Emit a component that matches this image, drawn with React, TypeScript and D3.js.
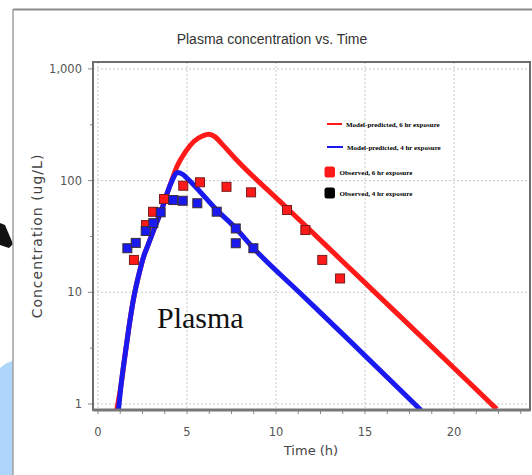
import React from "react";
import * as d3 from "d3";

// ---------- data ----------
const chartTitle = "Plasma concentration vs. Time";
const xAxisTitle = "Time (h)";
const yAxisTitle = "Concentration (ug/L)";
const annotationText = "Plasma";

const xTickValues = [0, 5, 10, 15, 20];
const xTickLabels = ["0", "5", "10", "15", "20"];
const yTickValues = [1, 10, 100, 1000];
const yTickLabels = ["1", "10", "100", "1,000"];

const legendLabels = [
  "Model-predicted, 6 hr exposure",
  "Model-predicted, 4 hr exposure",
  "Observed, 6 hr exposure",
  "Observed, 4 hr exposure",
];

// model-predicted, 6 hr exposure
const pred6Time = [1.05, 1.3, 1.5, 1.75, 2.0, 2.3, 2.55, 2.85, 3.2, 3.58, 3.86, 4.14, 4.45, 4.9, 5.4, 5.9, 6.2, 6.6, 7.0, 7.79, 10.22, 11.63, 13.6, 15.84, 20, 22.4];
const pred6Conc = [0.88, 1.5, 2.6, 5, 8.8, 14.5, 20.5, 27.5, 38.7, 55, 75, 100, 135, 180, 225, 252, 260, 245, 210, 153, 65.1, 39.8, 19.9, 9.06, 2.1, 0.9];

// model-predicted, 4 hr exposure
const pred4Time = [1.15, 1.3, 1.5, 1.75, 2.0, 2.3, 2.55, 2.85, 3.2, 3.58, 3.86, 4.14, 4.45, 4.75, 4.98, 5.54, 6.6, 7.7, 8.72, 11.35, 14.16, 18.15];
const pred4Conc = [0.88, 1.5, 2.6, 5, 8.8, 14.5, 20.5, 27.5, 38.7, 55, 75, 98, 118, 114, 106, 86, 56, 38, 25, 9.85, 3.66, 0.88];

// observed, 6 hr exposure
const obs6Time = [2.02, 2.7, 3.09, 3.71, 4.79, 5.73, 7.22, 8.6, 10.62, 11.65, 12.6, 13.6];
const obs6Conc = [19.5, 40, 52.6, 68.4, 90, 96.6, 88, 78.5, 54.6, 36.1, 19.5, 13.3];

// observed, 4 hr exposure
const obs4Time = [1.65, 2.12, 2.68, 3.11, 3.52, 4.23, 4.76, 5.58, 6.67, 7.74, 7.74, 8.73];
const obs4Conc = [24.8, 27.7, 35.4, 41.6, 52, 67, 66, 62.7, 52.7, 37.3, 27.5, 24.8];

// ---------- layout ----------
const W = 532;
const H = 475;
const plot = { left: 93, right: 530, top: 62, bottom: 410 };

const RED = "#ff1a1a";
const BLUE = "#1a1af0";

export default function App() {
  const x = d3.scaleLinear().domain([-0.28, 24.27]).range([plot.left, plot.right]);
  const y = d3.scaleLog().domain([0.884, 1153]).range([plot.bottom, plot.top]);

  const line = d3
    .line<[number, number]>()
    .x((d) => x(d[0]))
    .y((d) => y(d[1]))
    .curve(d3.curveMonotoneX);

  const pred6 = pred6Time.map((t, i) => [t, pred6Conc[i]] as [number, number]);
  const pred4 = pred4Time.map((t, i) => [t, pred4Conc[i]] as [number, number]);
  const obs6 = obs6Time.map((t, i) => [t, obs6Conc[i]] as [number, number]);
  const obs4 = obs4Time.map((t, i) => [t, obs4Conc[i]] as [number, number]);

  const minorX = d3.range(0, 24, 1.25);
  const minorY: number[] = [];
  [1, 10, 100].forEach((d) => minorY.push(d * Math.sqrt(10)));

  const sq = 9;
  const font = "'DejaVu Sans', Verdana, sans-serif";
  const titleFont = "'Liberation Sans', Arial, sans-serif";
  const serif = "'Liberation Serif', 'Times New Roman', serif";

  return (
    <div style={{ position: "absolute", left: 0, top: 0, width: W, height: H }}>
      <svg width={W} height={H} style={{ display: "block" }}>
        <rect x={0} y={0} width={W} height={H} fill="#ffffff" />
        {/* outer decorations */}
        <path d="M0,368 Q7,362 13,361 L13,475 L0,475 Z" fill="#aed6fa" />
        <path d="M0,223 L5,225 L13,244 L9,248 L0,245 Z" fill="#111" />
        <line x1={13} y1={9.5} x2={W} y2={9.5} stroke="#8c8c8c" strokeWidth={2} />
        <line x1={13} y1={9} x2={13} y2={H} stroke="#a0a0a0" strokeWidth={1.5} />

        {/* title */}
        <text x={272} y={44} textAnchor="middle" fontFamily={titleFont} fontSize={14} fill="#333">
          {chartTitle}
        </text>

        <defs>
          <clipPath id="plotClip">
            <rect x={plot.left} y={plot.top} width={plot.right - plot.left} height={plot.bottom - plot.top} />
          </clipPath>
        </defs>

        {/* gridlines */}
        {xTickValues.map((v) => (
          <line key={"gx" + v} x1={x(v)} x2={x(v)} y1={plot.top} y2={plot.bottom} stroke="#c8c8c8" strokeDasharray="2,2" />
        ))}
        {yTickValues.map((v) => (
          <line key={"gy" + v} x1={plot.left} x2={plot.right} y1={y(v)} y2={y(v)} stroke="#c8c8c8" strokeDasharray="2,2" />
        ))}

        {/* ticks */}
        {minorX.map((v) => (
          <line key={"mx" + v} x1={x(v)} x2={x(v)} y1={plot.bottom} y2={plot.bottom + 4} stroke="#888" />
        ))}
        {yTickValues.map((v) => (
          <line key={"ty" + v} x1={plot.left - 5} x2={plot.left} y1={y(v)} y2={y(v)} stroke="#888" />
        ))}
        {minorY.map((v) => (
          <line key={"my" + v} x1={plot.left - 3} x2={plot.left} y1={y(v)} y2={y(v)} stroke="#888" />
        ))}

        {/* tick labels */}
        {xTickValues.map((v, i) => (
          <text key={"lx" + v} x={x(v)} y={436} textAnchor="middle" fontFamily={font} fontSize={11.5} fill="#555">
            {xTickLabels[i]}
          </text>
        ))}
        {yTickValues.map((v, i) => (
          <text key={"ly" + v} x={82} y={y(v) + 4} textAnchor="end" fontFamily={font} fontSize={11.5} fill="#555">
            {yTickLabels[i]}
          </text>
        ))}

        {/* axis titles */}
        <text x={311} y={455} textAnchor="middle" fontFamily={font} fontSize={13} fill="#444">
          {xAxisTitle}
        </text>
        <text
          transform={`translate(42,236) rotate(-90)`}
          textAnchor="middle"
          fontFamily={font}
          fontSize={14}
          letterSpacing={1}
          fill="#444"
        >
          {yAxisTitle}
        </text>

        {/* series */}
        <g clipPath="url(#plotClip)">
          <path d={line(pred6) || ""} fill="none" stroke={RED} strokeWidth={5} />
          <path d={line(pred4) || ""} fill="none" stroke={BLUE} strokeWidth={5} />
          {obs6.map((d, i) => (
            <rect key={"o6" + i} x={x(d[0]) - sq / 2} y={y(d[1]) - sq / 2} width={sq} height={sq} fill={RED} stroke="#7a1a1a" strokeWidth={1} />
          ))}
          {obs4.map((d, i) => (
            <rect key={"o4" + i} x={x(d[0]) - sq / 2} y={y(d[1]) - sq / 2} width={sq} height={sq} fill={BLUE} stroke="#3a2a30" strokeWidth={1} />
          ))}
        </g>

        {/* plot frame */}
        <rect x={plot.left} y={plot.top} width={plot.right - plot.left} height={plot.bottom - plot.top} fill="none" stroke="#6e6e6e" strokeWidth={2} />
        <line x1={plot.left} x2={plot.right} y1={plot.bottom} y2={plot.bottom} stroke="#777" strokeWidth={3} />

        {/* annotation */}
        <text x={157} y={328} fontFamily={serif} fontSize={30} fill="#111">
          {annotationText}
        </text>

        {/* legend */}
        <line x1={327} x2={342} y1={124} y2={124} stroke={RED} strokeWidth={2} />
        <text x={346} y={126.5} fontFamily={serif} fontWeight="bold" fontSize={7} fill="#000">{legendLabels[0]}</text>
        <line x1={327} x2={343} y1={147} y2={147} stroke={BLUE} strokeWidth={2} />
        <text x={347} y={149.5} fontFamily={serif} fontWeight="bold" fontSize={7} fill="#000">{legendLabels[1]}</text>
        <rect x={324.5} y={166.5} width={10.5} height={11} rx={2.5} fill={RED} />
        <text x={339.5} y={174.5} fontFamily={serif} fontWeight="bold" fontSize={7} fill="#000">{legendLabels[2]}</text>
        <rect x={324.5} y={187.5} width={10.5} height={11} rx={2.5} fill="#000" />
        <text x={339.5} y={195.5} fontFamily={serif} fontWeight="bold" fontSize={7} fill="#000">{legendLabels[3]}</text>
      </svg>
    </div>
  );
}
